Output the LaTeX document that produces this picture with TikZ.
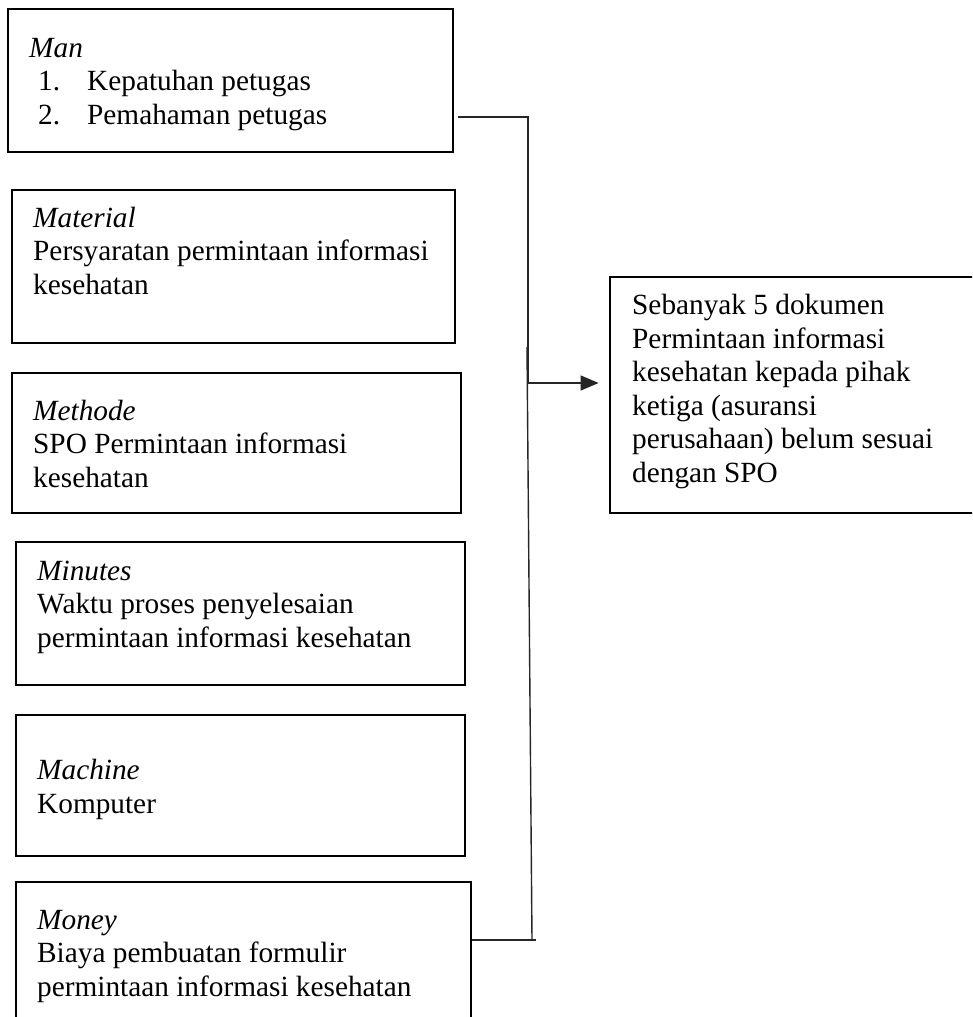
\documentclass[tikz,border=0pt]{standalone}
\usepackage{fontspec}
\setmainfont{Liberation Serif}
\usetikzlibrary{arrows.meta}
\begin{document}
\begin{tikzpicture}[x=1pt,y=-1pt,
  box/.style={draw=black, line width=2.8pt, inner sep=0pt, rectangle},
  txt/.style={anchor=base west, inner sep=0pt, align=left, font=\fontsize{29.3}{33.5}\selectfont},
  conn/.style={draw=black!85, line width=1.4pt},
  arr/.style={conn, -{Triangle[length=18pt,width=15pt]}}]
\useasboundingbox (0,0) rectangle (972,1017);
\clip (0,0) rectangle (972,1017);
% boxes
\node[box, minimum width=445pt, minimum height=143pt] (man) at (230.5,80.5) {};
\node[box, minimum width=443pt, minimum height=153pt] (material) at (233.5,266.5) {};
\node[box, minimum width=449pt, minimum height=140pt] (methode) at (236.5,443) {};
\node[box, minimum width=449pt, minimum height=143pt] (minutes) at (240.5,613.5) {};
\node[box, minimum width=449pt, minimum height=141pt] (machine) at (240.5,785.5) {};
\node[box, minimum width=455pt, minimum height=158pt] (money) at (243.5,961) {};
\node[box, minimum width=390pt, minimum height=236pt] (result) at (805,395) {};
% texts (anchored at the baseline of their last line)
\node[txt] (tman) at (29,124) {\textit{Man}\\\hspace{9pt}\makebox[49pt][l]{1.}Kepatuhan petugas\\\hspace{9pt}\makebox[49pt][l]{2.}Pemahaman petugas};
\node[txt] (tmaterial) at (33,294) {\textit{Material}\\Persyaratan permintaan informasi\\kesehatan};
\node[txt] (tmethode) at (33,487) {\textit{Methode}\\SPO Permintaan informasi\\kesehatan};
\node[txt] (tminutes) at (37,647) {\textit{Minutes}\\Waktu proses penyelesaian\\permintaan informasi kesehatan};
\node[txt] (tmachine) at (37,813) {\textit{Machine}\\Komputer};
\node[txt] (tmoney) at (37,996) {\textit{Money}\\Biaya pembuatan formulir\\permintaan informasi kesehatan};
\node[txt] (tresult) at (632,482) {Sebanyak 5 dokumen\\Permintaan informasi\\kesehatan kepada pihak\\ketiga (asuransi\\perusahaan) belum sesuai\\dengan SPO};
% connectors
\coordinate (manout) at ([xshift=4pt]man.east |- 0,117);
\coordinate (mtop) at (528,117);
\coordinate (joint) at (528,383);
\coordinate (ltop) at (527,347);
\coordinate (mbot) at (532,940);
\coordinate (mbend) at (536,940);
\draw[conn] (manout) -- (mtop) -- (joint);
\draw[conn] (money.east |- 0,940) -- (mbend);
\draw[conn] (mbot) -- (ltop);
\draw[arr] (joint) -- ([xshift=-10pt]result.west |- joint);
\end{tikzpicture}
\end{document}
